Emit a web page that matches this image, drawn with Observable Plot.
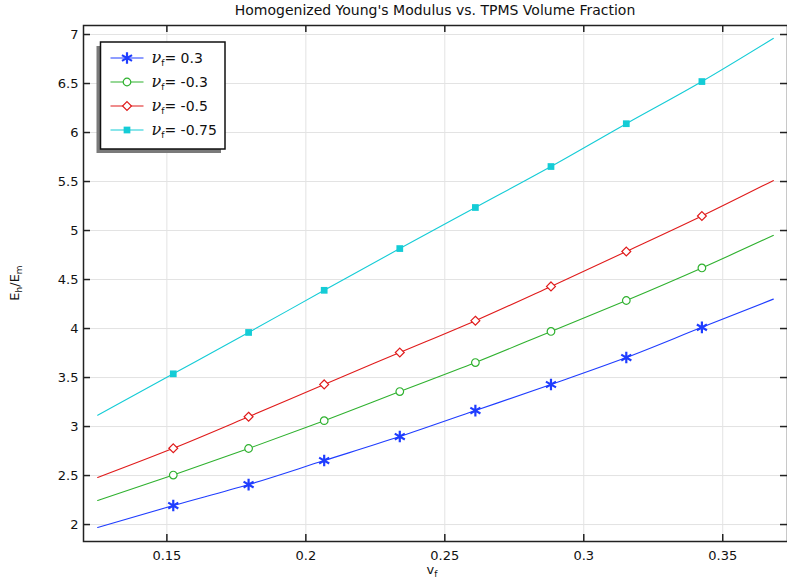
<!DOCTYPE html>
<html>
<head>
<meta charset="utf-8">
<script src="https://cdn.jsdelivr.net/npm/d3@7"></script>
<script src="https://cdn.jsdelivr.net/npm/@observablehq/plot@0.6"></script>
<style>
  html, body { margin: 0; padding: 0; background: #fff; }
  #chart svg { display: block; }
</style>
</head>
<body>
<div id="chart"></div>
<script>
// ---- data ----
const title = "Homogenized Young's Modulus vs. TPMS Volume Fraction";
const vf = [0.1251, 0.1523, 0.1794, 0.2066, 0.2338, 0.2610, 0.2882, 0.3153, 0.3425, 0.3682];
const seriesLabels = ["0.3", "-0.3", "-0.5", "-0.75"];
const eNu03 = [1.97, 2.194, 2.408, 2.653, 2.898, 3.163, 3.429, 3.704, 4.012, 4.30];
const eNuM03 = [2.245, 2.505, 2.776, 3.06, 3.357, 3.653, 3.97, 4.286, 4.618, 4.95];
const eNuM05 = [2.48, 2.778, 3.10, 3.43, 3.755, 4.08, 4.43, 4.786, 5.148, 5.51];
const eNuM075 = [3.115, 3.538, 3.96, 4.39, 4.816, 5.235, 5.653, 6.09, 6.52, 6.96];
const xTicks = [0.15, 0.2, 0.25, 0.3, 0.35];
const yTicks = [2, 2.5, 3, 3.5, 4, 4.5, 5, 5.5, 6, 6.5, 7];

// ---- styles ----
const colors = ["#1f3dff", "#2fb12f", "#e01b1b", "#14ccd6"];
const symbols = ["asterisk", "circle", "diamond2", "square"];
const d3Symbols = [d3.symbolAsterisk, d3.symbolCircle, d3.symbolDiamond2, d3.symbolSquare];
const radii = [5.5, 3.8, 4, 3.8];
const fills = ["none", "white", "white", colors[3]];
const strokes = [colors[0], colors[1], colors[2], "none"];
const strokeWidths = [2.2, 1.2, 1.2, 0];

const allSeries = [eNu03, eNuM03, eNuM05, eNuM075];
const rows = [];
allSeries.forEach((vals, s) => {
  vals.forEach((v, i) => rows.push({vf: vf[i], E: v, s, marker: i > 0 && i < vals.length - 1}));
});

const W = 787, H = 579;
const mL = 83, mR = 0, mT = 25, mB = 38;
const fw = W - mL - mR, fh = H - mT - mB;
const tick = 7;

const marks = [
  Plot.gridX(xTicks, {stroke: "#e3e3e3", strokeOpacity: 1, strokeWidth: 1}),
  Plot.gridY(yTicks, {stroke: "#e3e3e3", strokeOpacity: 1, strokeWidth: 1}),
  Plot.line(rows, {x: "vf", y: "E", z: "s", stroke: d => colors[d.s], strokeWidth: 1.1, curve: "monotone-x"}),
];
allSeries.forEach((_, s) => {
  marks.push(Plot.dot(rows.filter(d => d.s === s && d.marker), {
    x: "vf", y: "E", symbol: () => symbols[s], r: radii[s],
    fill: fills[s], stroke: strokes[s], strokeWidth: strokeWidths[s]
  }));
});
marks.push(
  // inward ticks on all four sides
  Plot.tickX(xTicks, {x: d => d, insetTop: fh - tick, stroke: "#222", strokeWidth: 1.5}),
  Plot.tickX(xTicks, {x: d => d, insetBottom: fh - tick, stroke: "#222", strokeWidth: 1.5}),
  Plot.tickY(yTicks, {y: d => d, insetRight: fw - tick, stroke: "#222", strokeWidth: 1.5}),
  Plot.tickY(yTicks, {y: d => d, insetLeft: fw - tick, stroke: "#222", strokeWidth: 1.5}),
  Plot.axisX(xTicks, {tickSize: 0, tickPadding: 9, fontSize: 13, label: null, fill: "#111", tickFormat: d => String(d)}),
  Plot.axisY(yTicks, {tickSize: 0, tickPadding: 5, fontSize: 13, label: null, fill: "#111", tickFormat: d => String(d)}),
  Plot.frame({stroke: "#222", strokeWidth: 1.5})
);

const svg = Plot.plot({
  width: W, height: H,
  marginLeft: mL, marginRight: mR, marginTop: mT, marginBottom: mB,
  style: {fontFamily: "DejaVu Sans", background: "white", overflow: "visible"},
  x: {domain: [0.12, 0.3733], label: null},
  y: {domain: [1.827, 7.092], label: null},
  marks
});
document.getElementById("chart").appendChild(svg);

// ---- text annotations ----
const s = d3.select(svg);
s.append("text").attr("x", (mL + W - mR) / 2).attr("y", 15)
  .attr("text-anchor", "middle").attr("font-family", "DejaVu Sans").attr("font-size", 14)
  .attr("fill", "#111").text(title);

// x label: v_f
const xl = s.append("text").attr("x", (mL + W - mR) / 2 - 3).attr("y", 574)
  .attr("text-anchor", "middle").attr("font-family", "DejaVu Sans").attr("font-size", 13).attr("fill", "#111");
xl.append("tspan").text("v");
xl.append("tspan").attr("dy", 3).attr("font-size", 9).text("f");

// y label: E_h/E_m
const yl = s.append("text").attr("transform", `translate(19,${mT + fh / 2}) rotate(-90)`)
  .attr("text-anchor", "middle").attr("font-family", "DejaVu Sans").attr("font-size", 13).attr("fill", "#111");
yl.append("tspan").text("E");
yl.append("tspan").attr("dy", 3).attr("font-size", 9).text("h");
yl.append("tspan").attr("dy", -3).text("/E");
yl.append("tspan").attr("dy", 3).attr("font-size", 9).text("m");

// legend
const lx = 100.5, ly = 42, lw = 124.5, lh = 107;
const lg = s.append("g").attr("text-anchor", "start");
lg.append("rect").attr("x", lx - 4).attr("y", ly + 4).attr("width", lw).attr("height", lh).attr("fill", "#7a7a7a");
lg.append("rect").attr("x", lx).attr("y", ly).attr("width", lw).attr("height", lh)
  .attr("fill", "white").attr("stroke", "#111").attr("stroke-width", 1.5);
seriesLabels.forEach((lab, i) => {
  const y = ly + 16 + i * 24;
  lg.append("line").attr("x1", lx + 10).attr("x2", lx + 43).attr("y1", y).attr("y2", y)
    .attr("stroke", colors[i]).attr("stroke-width", 1.1);
  lg.append("path").attr("transform", `translate(${lx + 26.5},${y})`)
    .attr("d", d3.symbol(d3Symbols[i], Math.PI * radii[i] * radii[i])())
    .attr("fill", fills[i]).attr("stroke", strokes[i]).attr("stroke-width", strokeWidths[i]);
  const t = lg.append("text").attr("x", lx + 51).attr("y", y + 5).attr("text-anchor", "start")
    .attr("font-family", "DejaVu Sans").attr("font-size", 14).attr("fill", "#111");
  t.append("tspan").attr("font-family", "DejaVu Serif").attr("font-style", "italic").attr("font-size", 16).text("ν");
  t.append("tspan").attr("dy", 3).attr("font-size", 9).text("f");
  t.append("tspan").attr("dy", -3).text("= " + lab);
});
</script>
</body>
</html>
